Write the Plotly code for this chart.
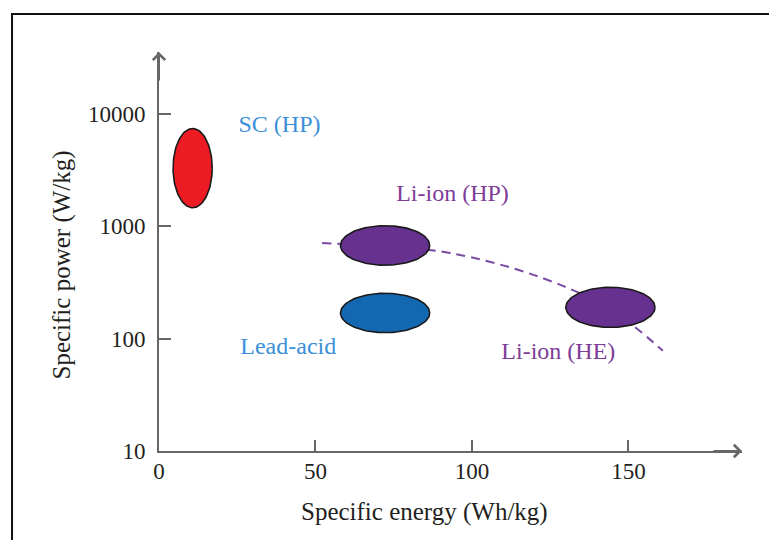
import numpy as np
import plotly.graph_objects as go

# Technology regions: specific energy (Wh/kg) and specific power (W/kg) extents
technologies = ["SC (HP)", "Li-ion (HP)", "Lead-acid", "Li-ion (HE)"]
energy_lo = [4.5, 58.0, 58.0, 130.0]
energy_hi = [17.0, 86.5, 86.5, 158.5]
power_lo = [1460, 450, 113, 126]
power_hi = [7400, 1010, 253, 286]
fill_colors = ["#ED1C24", "#66318F", "#1468B2", "#66318F"]

# Label positions (energy, power) and colours
label_energy = [38.5, 93.8, 41.3, 127.6]
label_power = [7780, 1897, 82.4, 75]
label_colors = ["#3B8FD9", "#7E3C98", "#3B8FD9", "#7E3C98"]

# Li-ion trade-off trend line
trend_energy = [52.1, 72.2, 93.0, 121.7, 144.1, 161.0]
trend_power = [710, 659, 578, 353, 183, 78]

# Axis ticks
x_ticks = [0, 50, 100, 150]
y_ticks = [10, 100, 1000, 10000]

SERIF = "Liberation Serif"
AXIS_GREY = "#676767"
TEXT = "#231F20"

fig = go.Figure()

fig.add_trace(go.Scatter(
    x=trend_energy, y=trend_power, mode="lines",
    line=dict(color="#7A4BA3", width=2, dash="9px,6px", shape="spline", smoothing=1.0),
    hoverinfo="skip", showlegend=False,
))

t = np.linspace(0, 2 * np.pi, 121)
for name, elo, ehi, plo, phi, col in zip(technologies, energy_lo, energy_hi,
                                         power_lo, power_hi, fill_colors):
    cx, ax_ = (elo + ehi) / 2, (ehi - elo) / 2
    ly0, ly1 = np.log10(plo), np.log10(phi)
    cy, by = (ly0 + ly1) / 2, (ly1 - ly0) / 2
    fig.add_trace(go.Scatter(
        x=cx + ax_ * np.cos(t), y=10 ** (cy + by * np.sin(t)),
        mode="lines", fill="toself", fillcolor=col,
        line=dict(color="#1A1A1A", width=1.6),
        name=name, hoverinfo="name", showlegend=False,
    ))

fig.add_trace(go.Scatter(
    x=label_energy, y=label_power, mode="text", text=technologies,
    textposition="middle center",
    textfont=dict(family=SERIF, size=24, color=label_colors),
    hoverinfo="skip", showlegend=False,
))

fig.update_layout(
    width=769, height=540,
    margin=dict(l=159, r=27, t=52, b=89, pad=0),
    paper_bgcolor="white", plot_bgcolor="white",
    font=dict(family=SERIF, size=23, color=TEXT),
    xaxis=dict(
        range=[0, 186.3], tickvals=x_ticks, ticktext=[str(v) for v in x_ticks],
        showline=True, linecolor=AXIS_GREY, linewidth=2,
        ticks="inside", ticklen=11, tickwidth=2, tickcolor=AXIS_GREY,
        ticklabelstandoff=-2,
        showgrid=False, zeroline=False,
    ),
    yaxis=dict(
        type="log", range=[1, 4.55], tickvals=y_ticks,
        ticktext=[str(v) for v in y_ticks],
        showline=True, linecolor=AXIS_GREY, linewidth=2,
        ticks="inside", ticklen=12, tickwidth=2, tickcolor=AXIS_GREY,
        ticklabelstandoff=7,
        showgrid=False, zeroline=False,
    ),
    shapes=[dict(
        type="path", xref="paper", yref="paper",
        path="M -0.2521,-0.3 L -0.2521,1.0952 L 1.2,1.0952",
        line=dict(color="#111111", width=2),
    )],
    annotations=[
        dict(xref="paper", yref="paper", x=1, y=0, ax=-30, ay=0, axref="pixel",
             ayref="pixel", text="", showarrow=True, arrowhead=4, arrowsize=1.2,
             arrowwidth=2, arrowcolor=AXIS_GREY, standoff=0),
        dict(xref="paper", yref="paper", x=0, y=1, ax=0, ay=30, axref="pixel",
             ayref="pixel", text="", showarrow=True, arrowhead=4, arrowsize=1.2,
             arrowwidth=2, arrowcolor=AXIS_GREY, standoff=0),
        dict(xref="paper", yref="paper", x=0.4557, y=-0.1521,
             xanchor="center", yanchor="middle", showarrow=False,
             text="Specific energy (Wh/kg)",
             font=dict(family=SERIF, size=25, color=TEXT)),
        dict(xref="paper", yref="paper", x=-0.1664, y=0.4674,
             xanchor="center", yanchor="middle", showarrow=False, textangle=-90,
             text="Specific power (W/kg)",
             font=dict(family=SERIF, size=25, color=TEXT)),
    ],
)

fig.write_html("out.html")
